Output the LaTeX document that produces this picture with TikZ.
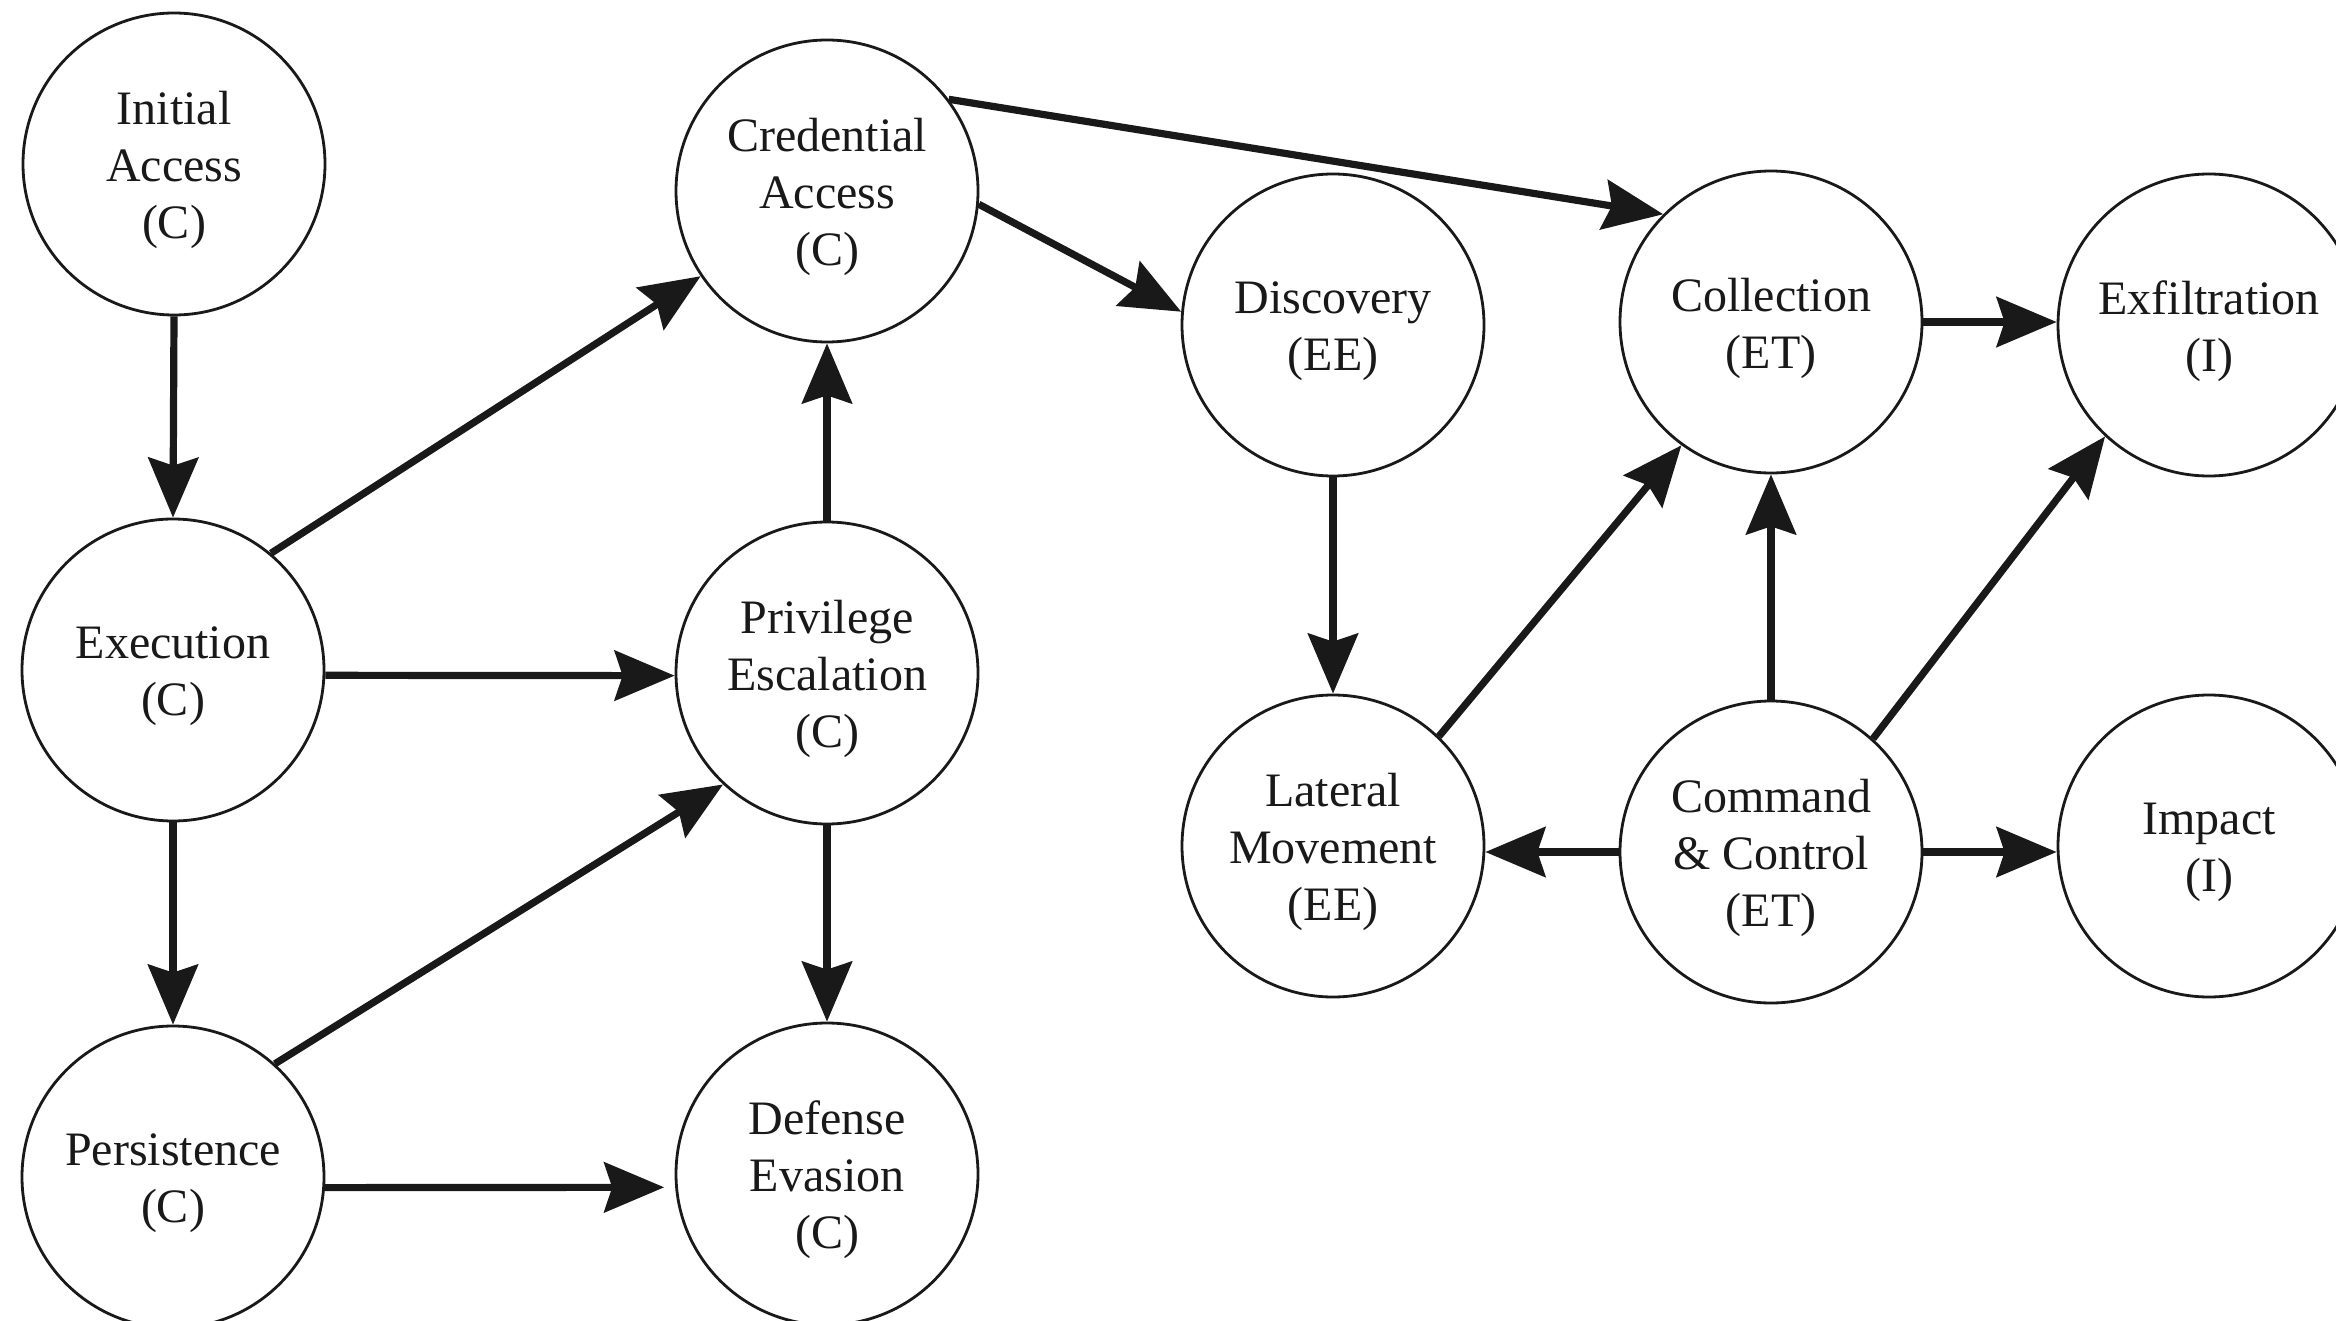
\documentclass[tikz,border=0pt]{standalone}
\usepackage{fontspec}
\setmainfont{Liberation Serif}
\usetikzlibrary{arrows.meta}
\begin{document}
\begin{tikzpicture}[x=1pt,y=-1pt,
  st/.style={circle,draw=black!90,line width=2.8pt,minimum size=302pt,inner sep=0pt},
  lbl/.style={align=center,inner sep=0pt,font=\fontsize{48}{57}\selectfont,text=black!90},
  arr/.style={line width=7.2pt,draw=black!90,-{Stealth[length=60pt,width=50pt,inset=8pt]}}]
\useasboundingbox (0,0) rectangle (2336,1321);
\clip (0,0) rectangle (2336,1321);
\fill[white] (0,0) rectangle (2336,1321);
\node[st] (ia)   at (174,164)  {};
\node[st] (exec) at (173,670)  {};
\node[st] (pers) at (173,1177) {};
\node[st] (ca)   at (827,191)  {};
\node[st] (pe)   at (827,673)  {};
\node[st] (de)   at (827,1174) {};
\node[st] (disc) at (1333,325) {};
\node[st] (lm)   at (1333,846) {};
\node[st] (coll) at (1771,322) {};
\node[st] (cc)   at (1771,852) {};
\node[st] (exf)  at (2209,325) {};
\node[st] (imp)  at (2209,846) {};

\node[lbl] (ia-t)   at ([yshift=-6pt]ia.center)   {Initial\\Access\\(C)};
\node[lbl] (exec-t) at ([yshift=-6pt]exec.center) {Execution\\(C)};
\node[lbl] (pers-t) at ([yshift=-6pt]pers.center) {Persistence\\(C)};
\node[lbl] (ca-t)   at ([yshift=-6pt]ca.center)   {Credential\\Access\\(C)};
\node[lbl] (pe-t)   at ([yshift=-6pt]pe.center)   {Privilege\\Escalation\\(C)};
\node[lbl] (de-t)   at ([yshift=-6pt]de.center)   {Defense\\Evasion\\(C)};
\node[lbl] (disc-t) at ([yshift=-6pt]disc.center) {Discovery\\(EE)};
\node[lbl] (lm-t)   at ([yshift=-6pt]lm.center)   {Lateral\\Movement\\(EE)};
\node[lbl] (coll-t) at ([yshift=-6pt]coll.center) {Collection\\(ET)};
\node[lbl] (cc-t)   at ([yshift=-6pt]cc.center)   {Command\\\& Control\\(ET)};
\node[lbl] (exf-t)  at ([yshift=-6pt]exf.center)  {Exfiltration\\(I)};
\node[lbl] (imp-t)  at ([yshift=-6pt]imp.center)  {Impact\\(I)};

\draw[arr] (ia.south) -- (exec.north);
\draw[arr] (exec.50) -- (ca.214);
\draw[arr] (exec.-2) -- (pe.181);
\draw[arr] (exec.south) -- (pers.north);
\draw[arr] (pers.48) -- (pe.227);
\draw[arr,shorten >=11pt] (pers.-4.6) -- (de.185.7);
\draw[arr] (pe.north) -- (ca.south);
\draw[arr] (pe.south) -- (de.north);
\draw[arr] (ca.-5) -- (disc.175.5);
\draw[arr] (ca.37.8) -- (coll.135);
\draw[arr] (disc.south) -- (lm.north);
\draw[arr] (lm.46.6) -- (coll.234.7);
\draw[arr] (cc.north) -- (coll.south);
\draw[arr] (cc.48.5) -- (exf.227.8);
\draw[arr] (cc.west) -- (lm.east |- cc.west);
\draw[arr] (cc.east) -- (imp.west |- cc.east);
\draw[arr] (coll.east) -- (exf.west |- coll.east);
\end{tikzpicture}
\end{document}
